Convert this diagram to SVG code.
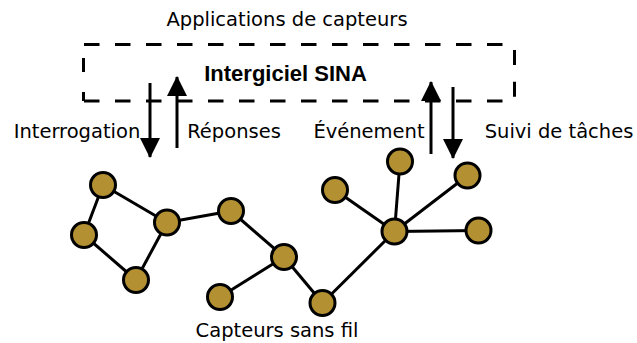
<svg xmlns="http://www.w3.org/2000/svg" width="637" height="343" viewBox="0 0 637 343">
  <style>
    .lbl { font-family: "DejaVu Sans", sans-serif; font-size: 19.5px; fill: #000; text-anchor: middle; }
    .title { font-family: "Liberation Sans", Arial, sans-serif; font-weight: bold; font-size: 22px; fill: #000; text-anchor: middle; }
    .box { fill: none; stroke: #000; stroke-width: 3; }
    .dash { stroke-dasharray: 15.5 15.5; }
    .edge { stroke: #000; stroke-width: 3; fill: none; }
    .arrow { stroke: #000; stroke-width: 3; fill: none; marker-end: url(#head); }
    .node circle { fill: #b39032; stroke: #000; stroke-width: 3; }
  </style>
  <defs>
    <marker id="head" markerUnits="userSpaceOnUse" markerWidth="20" markerHeight="20" refX="19" refY="10" orient="auto" viewBox="0 0 20 20">
      <path d="M0,0 L20,10 L0,20 Z" fill="#000"/>
    </marker>
  </defs>

  <rect width="637" height="343" fill="#fff"/>

  <text class="lbl" x="287" y="26">Applications de capteurs</text>

  <!-- middleware layer: dashed frame -->
  <g id="middleware">
    <path class="box dash" d="M84,44.5 H516"/>
    <path class="box dash" d="M84,101 H516"/>
    <path class="box" d="M514.5,50 V65 M514.5,81.7 V96.7 M83.5,58 V72 M83.5,92 V101"/>
    <text class="title" x="285.5" y="81">Intergiciel SINA</text>
  </g>

  <text class="lbl" x="77" y="138">Interrogation</text>
  <text class="lbl" x="234" y="138">Réponses</text>
  <text class="lbl" x="369" y="138">Événement</text>
  <text class="lbl" x="559" y="138">Suivi de tâches</text>
  <text class="lbl" x="277" y="337">Capteurs sans fil</text>

  <g id="connectors">
    <path class="arrow" d="M150,83 V157"/>
    <path class="arrow" d="M177,148 V77"/>
    <path class="arrow" d="M431,154 V82"/>
    <path class="arrow" d="M453,87 V158"/>

    <path class="edge" d="M103,185 L84,235"/>
    <path class="edge" d="M103,185 L167,222.5"/>
    <path class="edge" d="M84,235 L136,280"/>
    <path class="edge" d="M136,280 L167,222.5"/>
    <path class="edge" d="M167,222.5 L231,211"/>
    <path class="edge" d="M231,211 L284,257"/>
    <path class="edge" d="M284,257 L220,297"/>
    <path class="edge" d="M284,257 L322.5,303"/>
    <path class="edge" d="M322.5,303 L394.5,231.5"/>
    <path class="edge" d="M394.5,231.5 L335,190"/>
    <path class="edge" d="M394.5,231.5 L400,161.5"/>
    <path class="edge" d="M394.5,231.5 L467.5,175.5"/>
    <path class="edge" d="M394.5,231.5 L478.5,230.5"/>
  </g>

  <g id="n1" class="node"><circle cx="103" cy="185" r="12.5"/></g>
  <g id="n2" class="node"><circle cx="84" cy="235" r="12.5"/></g>
  <g id="n3" class="node"><circle cx="136" cy="280" r="12.5"/></g>
  <g id="n4" class="node"><circle cx="167" cy="222.5" r="12.5"/></g>
  <g id="n5" class="node"><circle cx="231" cy="211" r="12.5"/></g>
  <g id="n6" class="node"><circle cx="284" cy="257" r="12.5"/></g>
  <g id="n7" class="node"><circle cx="220" cy="297" r="12.5"/></g>
  <g id="n8" class="node"><circle cx="322.5" cy="303" r="12.5"/></g>
  <g id="n9" class="node"><circle cx="394.5" cy="231.5" r="12.5"/></g>
  <g id="n10" class="node"><circle cx="335" cy="190" r="12.5"/></g>
  <g id="n11" class="node"><circle cx="400" cy="161.5" r="12.5"/></g>
  <g id="n12" class="node"><circle cx="467.5" cy="175.5" r="12.5"/></g>
  <g id="n13" class="node"><circle cx="478.5" cy="230.5" r="12.5"/></g>
</svg>
